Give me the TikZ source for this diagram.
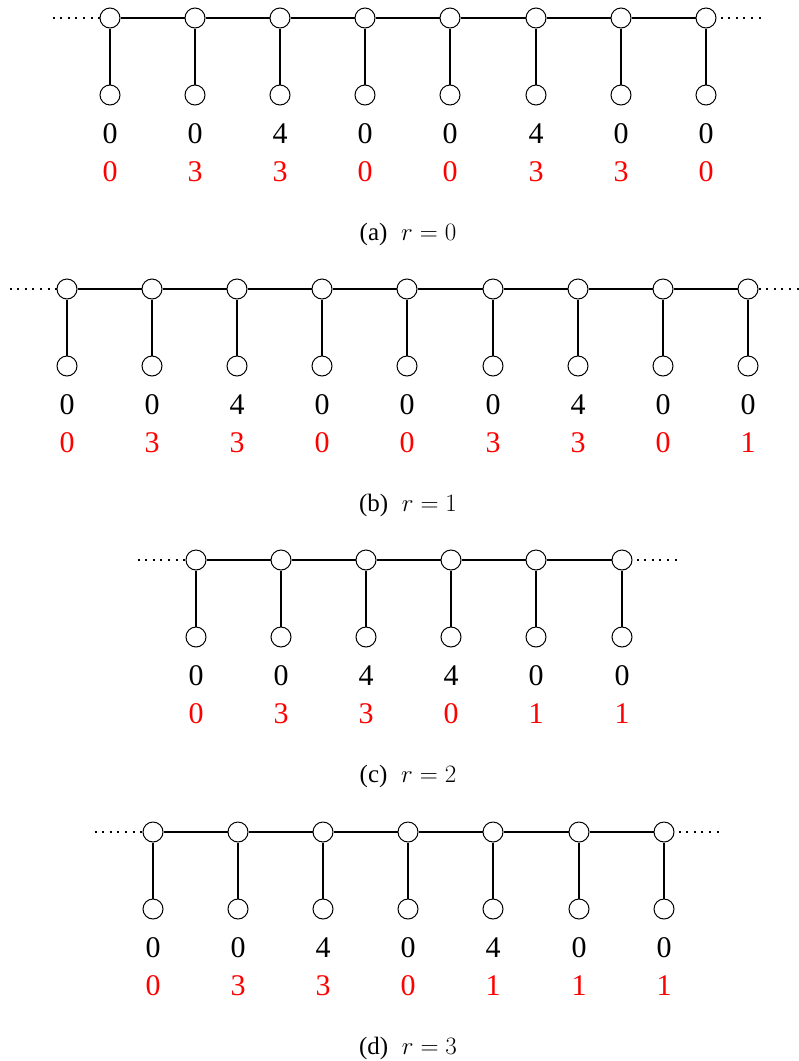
\RequirePackage{fix-cm}
\documentclass[tikz,border=0pt]{standalone}
\usepackage[no-math]{fontspec}
\setmainfont{Liberation Serif}
\DeclareMathSizes{25}{25}{17.5}{12.5}
\usetikzlibrary{positioning}

\tikzset{
  vert/.style={circle,draw,fill=white,inner sep=0pt,minimum size=20pt,line width=1pt},
  edge/.style={line width=2pt},
  tail/.style={line width=2pt,dash pattern=on 2pt off 5.6pt},
  val/.style={anchor=base,font=\fontsize{30}{30}\selectfont},
  load/.style={val,text=red},
  sublabel/.style={anchor=base,font=\fontsize{25}{25}\selectfont},
}

\begin{document}
\begin{tikzpicture}[x=1pt,y=-1pt]
\useasboundingbox (0,0) rectangle (799,1061);

% (a) r = 0
\foreach \v/\w [count=\i] in {0/0,0/3,4/3,0/0,0/0,4/3,0/3,0/0} {
  \node[vert] (a\i) at ({round(110+85.1*(\i-1))},18) {};
  \node[vert] (ab\i) at ({round(110+85.1*(\i-1))},95) {};
  \draw[edge] (a\i) -- (ab\i);
  \node[val] (av\i) at ({round(110+85.1*(\i-1))},143) {\v};
  \node[load] (aw\i) at ({round(110+85.1*(\i-1))},181) {\w};
}
\foreach \i [remember=\i as \j (initially 1)] in {2,...,8}
  \draw[edge] (a\j) -- (a\i);
\coordinate[left=47pt of a1] (al);
\coordinate[right=44pt of a8] (ar);
\draw[tail] (al) -- (a1.west);
\draw[tail] (ar) -- (a8.east);
\node[sublabel] (capa) at (408,240) {(a)\hspace{0.55em}$r=0$};

% (b) r = 1
\foreach \v/\w [count=\i] in {0/0,0/3,4/3,0/0,0/0,0/3,4/3,0/0,0/1} {
  \node[vert] (b\i) at ({round(67+85.1*(\i-1))},289) {};
  \node[vert] (bb\i) at ({round(67+85.1*(\i-1))},366) {};
  \draw[edge] (b\i) -- (bb\i);
  \node[val] (bv\i) at ({round(67+85.1*(\i-1))},414) {\v};
  \node[load] (bw\i) at ({round(67+85.1*(\i-1))},452) {\w};
}
\foreach \i [remember=\i as \j (initially 1)] in {2,...,9}
  \draw[edge] (b\j) -- (b\i);
\coordinate[left=47pt of b1] (bl);
\coordinate[right=40pt of b9] (br);
\draw[tail] (bl) -- (b1.west);
\draw[tail] (br) -- (b9.east);
\node[sublabel] (capb) at (408,511) {(b)\hspace{0.55em}$r=1$};

% (c) r = 2
\foreach \v/\w [count=\i] in {0/0,0/3,4/3,4/0,0/1,0/1} {
  \node[vert] (c\i) at ({round(196+85.1*(\i-1))},560) {};
  \node[vert] (cb\i) at ({round(196+85.1*(\i-1))},637) {};
  \draw[edge] (c\i) -- (cb\i);
  \node[val] (cv\i) at ({round(196+85.1*(\i-1))},685) {\v};
  \node[load] (cw\i) at ({round(196+85.1*(\i-1))},723) {\w};
}
\foreach \i [remember=\i as \j (initially 1)] in {2,...,6}
  \draw[edge] (c\j) -- (c\i);
\coordinate[left=48pt of c1] (cl);
\coordinate[right=44pt of c6] (cr);
\draw[tail] (cl) -- (c1.west);
\draw[tail] (cr) -- (c6.east);
\node[sublabel] (capc) at (408,782) {(c)\hspace{0.55em}$r=2$};

% (d) r = 3
\foreach \v/\w [count=\i] in {0/0,0/3,4/3,0/0,4/1,0/1,0/1} {
  \node[vert] (d\i) at ({round(153+85.1*(\i-1))},832) {};
  \node[vert] (db\i) at ({round(153+85.1*(\i-1))},909) {};
  \draw[edge] (d\i) -- (db\i);
  \node[val] (dv\i) at ({round(153+85.1*(\i-1))},957) {\v};
  \node[load] (dw\i) at ({round(153+85.1*(\i-1))},995) {\w};
}
\foreach \i [remember=\i as \j (initially 1)] in {2,...,7}
  \draw[edge] (d\j) -- (d\i);
\coordinate[left=48pt of d1] (dl);
\coordinate[right=44pt of d7] (dr);
\draw[tail] (dl) -- (d1.west);
\draw[tail] (dr) -- (d7.east);
\node[sublabel] (capd) at (408,1054) {(d)\hspace{0.55em}$r=3$};
\end{tikzpicture}
\end{document}
